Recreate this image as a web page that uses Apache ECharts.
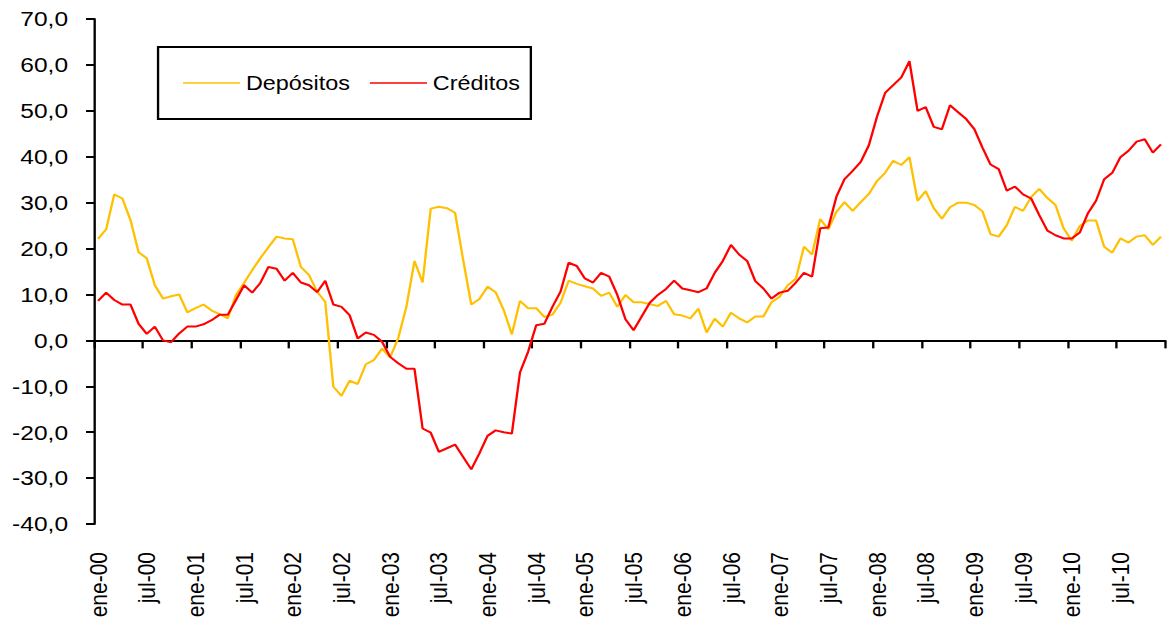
<!DOCTYPE html>
<html>
<head>
<meta charset="utf-8">
<script src="https://cdn.jsdelivr.net/npm/echarts@6/dist/echarts.min.js"></script>
<style>
html, body { margin: 0; padding: 0; background: #fff; overflow: hidden; }
#wrap { width: 1169px; height: 629px; overflow: hidden; }
/* el original tiene el texto algo ensanchado: se dibuja a 1000px y se estira en horizontal */
#chart { width: 1000px; height: 629px; transform: scaleX(1.169); transform-origin: 0 0; }
</style>
</head>
<body>
<div id="wrap"><div id="chart"></div></div>
<script>
var meses = ['ene','feb','mar','abr','may','jun','jul','ago','sep','oct','nov','dic'];
var anios = ['00','01','02','03','04','05','06','07','08','09','10'];
var categorias = [];
for (var a = 0; a < anios.length; a++) {
	for (var m = 0; m < meses.length; m++) {
		categorias.push(meses[m] + '-' + anios[a]);
	}
}

var depositos = [
	22.1, 24.2, 31.8, 30.9, 26.2, 19.2, 17.9, 12.0, 9.1, 9.6, 10.0, 6.1,
	7.0, 7.8, 6.5, 5.7, 4.8, 9.9, 12.5, 15.3, 17.9, 20.3, 22.6, 22.2,
	22.0, 16.0, 14.2, 10.6, 8.4, -10.1, -12.1, -8.8, -9.5, -5.2, -4.3, -1.8,
	-3.7, 0.5, 7.3, 17.3, 12.6, 28.7, 29.1, 28.8, 27.8, 17.5, 7.8, 9.0,
	11.7, 10.5, 6.6, 1.3, 8.6, 7.0, 7.0, 5.1, 5.6, 8.2, 13.0, 12.3,
	11.8, 11.3, 9.7, 10.4, 7.3, 9.9, 8.3, 8.3, 7.9, 7.5, 8.6, 5.7,
	5.4, 4.8, 6.9, 1.7, 4.7, 3.0, 6.0, 4.8, 3.9, 5.2, 5.2, 8.3,
	9.5, 12.0, 13.4, 20.4, 18.7, 26.4, 24.2, 28.0, 30.1, 28.2, 30.1, 31.9,
	34.7, 36.5, 39.1, 38.2, 39.9, 30.4, 32.5, 28.8, 26.5, 29.0, 30.0, 30.0,
	29.5, 28.1, 23.1, 22.6, 25.1, 29.1, 28.2, 31.2, 33.0, 31.0, 29.5, 24.4,
	21.7, 24.9, 26.1, 26.1, 20.4, 19.1, 22.2, 21.3, 22.6, 22.9, 20.8, 22.6
];

var creditos = [
	8.6, 10.4, 8.8, 7.8, 7.8, 3.6, 1.4, 3.0, 0.0, -0.4, 1.5, 3.0,
	3.0, 3.5, 4.4, 5.6, 5.6, 8.8, 12.0, 10.4, 12.5, 16.0, 15.6, 13.0,
	14.7, 12.6, 12.0, 10.5, 13.0, 7.8, 7.3, 5.5, 0.4, 1.7, 1.2, -0.3,
	-3.6, -5.0, -6.2, -6.2, -19.2, -20.1, -24.3, -23.5, -22.7, -25.4, -28.1, -24.6,
	-20.8, -19.6, -20.0, -20.3, -7.0, -2.5, 3.3, 3.6, 7.3, 10.6, 16.9, 16.2,
	13.5, 12.6, 14.7, 13.9, 9.9, 4.6, 2.2, 5.2, 8.2, 9.9, 11.2, 13.0,
	11.3, 10.9, 10.5, 11.3, 14.7, 17.3, 20.8, 18.7, 17.3, 12.9, 11.3, 9.1,
	10.4, 10.8, 12.6, 14.7, 13.9, 24.4, 24.6, 31.3, 35.1, 36.9, 38.9, 42.5,
	48.7, 53.9, 55.6, 57.3, 60.8, 50.0, 50.8, 46.5, 46.0, 51.2, 49.7, 48.2,
	46.0, 42.0, 38.3, 37.3, 32.6, 33.5, 31.8, 30.9, 27.3, 23.9, 22.9, 22.2,
	22.2, 23.5, 27.7, 30.4, 35.1, 36.5, 39.9, 41.3, 43.3, 43.8, 40.9, 42.7
];

window.onload = function() {
	var myChart = echarts.init(document.getElementById('chart'), null, { renderer : 'svg' });
	var fuente = '"Liberation Sans", Arial, sans-serif';
	var option = {
		backgroundColor : '#fff',
		animation : false,
		grid : {
			left : 80.4,
			right : 3.4,
			top : 19,
			bottom : 105
		},
		legend : {
			left : 135.2,
			top : 47,
			padding : [ 26, 9.4, 26, 21.4 ],
			itemGap : 17.1,
			itemWidth : 48.8,
			itemHeight : 1.5,
			icon : 'rect',
			borderColor : '#000',
			borderWidth : 2,
			backgroundColor : '#fff',
			textStyle : {
				fontFamily : fuente,
				fontSize : 20,
				color : '#000'
			},
			data : [ 'Depósitos', 'Créditos' ]
		},
		xAxis : [ {
			type : 'category',
			data : categorias,
			boundaryGap : true,
			axisLine : {
				onZero : true,
				lineStyle : { color : '#000', width : 2 }
			},
			axisTick : {
				show : true,
				interval : 5,
				length : 8,
				lineStyle : { color : '#000', width : 2 }
			},
			axisLabel : { show : false },
			splitLine : { show : false }
		}, {
			type : 'category',
			data : categorias,
			position : 'bottom',
			boundaryGap : true,
			axisLine : { show : false, onZero : false },
			axisTick : { show : false },
			axisLabel : {
				interval : 5,
				rotate : 90,
				margin : 28,
				fontFamily : fuente,
				fontSize : 21,
				color : '#000'
			},
			splitLine : { show : false }
		} ],
		yAxis : {
			type : 'value',
			min : -40,
			max : 70,
			interval : 10,
			axisLine : {
				show : true,
				lineStyle : { color : '#000', width : 2 }
			},
			axisTick : {
				show : true,
				length : 6.8,
				lineStyle : { color : '#000', width : 2 }
			},
			axisLabel : {
				margin : 22.2,
				fontFamily : fuente,
				fontSize : 21,
				color : '#000',
				formatter : function(v) {
					return v.toFixed(1).replace('.', ',');
				}
			},
			splitLine : { show : false }
		},
		series : [ {
			name : 'Depósitos',
			type : 'line',
			data : depositos,
			symbol : 'none',
			lineStyle : { color : '#FFC000', width : 2 },
			itemStyle : { color : '#FFC000' }
		}, {
			name : 'Créditos',
			type : 'line',
			data : creditos,
			symbol : 'none',
			lineStyle : { color : '#FF0000', width : 2 },
			itemStyle : { color : '#FF0000' }
		} ]
	};
	myChart.setOption(option);
};
</script>
</body>
</html>
